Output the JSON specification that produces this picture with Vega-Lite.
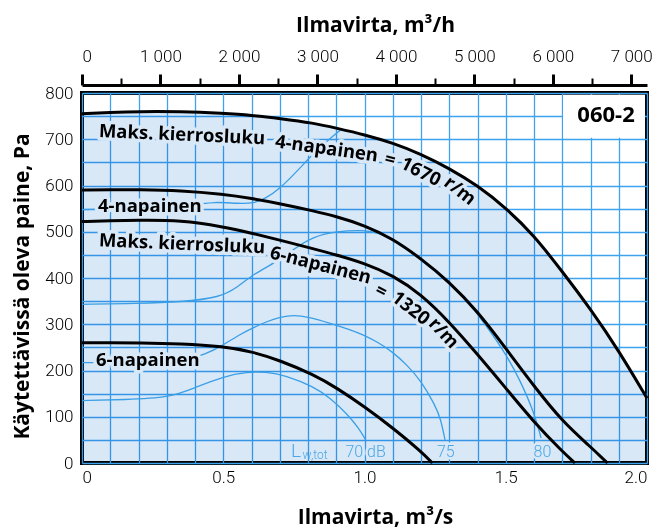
{
  "$schema": "https://vega.github.io/schema/vega-lite/v6.json",
  "width": 565,
  "height": 370,
  "autosize": {"type": "none"},
  "padding": {"left": 82, "top": 93, "right": 12, "bottom": 69},
  "background": "white",
  "config": {
    "view": {"stroke": "black", "strokeWidth": 4},
    "axis": {
      "labelFont": "Roboto",
      "labelFontWeight": 300,
      "labelFontSize": 17,
      "labelColor": "black",
      "titleFont": "Open Sans",
      "titleFontSize": 21,
      "titleFontWeight": "bold",
      "titleColor": "black",
      "gridColor": "#3ea3ee",
      "gridWidth": 1.3,
      "gridOpacity": 1
    }
  },
  "datasets": {
    "curves": [
      {"s": "max4", "x": 0, "y": 755}, {"s": "max4", "x": 0.1, "y": 758}, {"s": "max4", "x": 0.2, "y": 760}, {"s": "max4", "x": 0.35, "y": 760}, {"s": "max4", "x": 0.5, "y": 756}, {"s": "max4", "x": 0.6, "y": 752}, {"s": "max4", "x": 0.7, "y": 745}, {"s": "max4", "x": 0.82, "y": 735}, {"s": "max4", "x": 0.9, "y": 724}, {"s": "max4", "x": 1.0, "y": 710}, {"s": "max4", "x": 1.1, "y": 692}, {"s": "max4", "x": 1.2, "y": 668}, {"s": "max4", "x": 1.3, "y": 637}, {"s": "max4", "x": 1.4, "y": 600}, {"s": "max4", "x": 1.5, "y": 552}, {"s": "max4", "x": 1.6, "y": 492}, {"s": "max4", "x": 1.7, "y": 414}, {"s": "max4", "x": 1.8, "y": 333}, {"s": "max4", "x": 1.9, "y": 243}, {"s": "max4", "x": 2.0, "y": 140},
      {"s": "n4", "x": 0, "y": 590}, {"s": "n4", "x": 0.1, "y": 591}, {"s": "n4", "x": 0.2, "y": 591}, {"s": "n4", "x": 0.35, "y": 589}, {"s": "n4", "x": 0.5, "y": 581}, {"s": "n4", "x": 0.6, "y": 572}, {"s": "n4", "x": 0.7, "y": 561}, {"s": "n4", "x": 0.82, "y": 545}, {"s": "n4", "x": 0.9, "y": 533}, {"s": "n4", "x": 1.0, "y": 514}, {"s": "n4", "x": 1.1, "y": 485}, {"s": "n4", "x": 1.2, "y": 442}, {"s": "n4", "x": 1.3, "y": 392}, {"s": "n4", "x": 1.4, "y": 328}, {"s": "n4", "x": 1.5, "y": 248}, {"s": "n4", "x": 1.6, "y": 166}, {"s": "n4", "x": 1.7, "y": 90}, {"s": "n4", "x": 1.8, "y": 35}, {"s": "n4", "x": 1.86, "y": 0},
      {"s": "max6", "x": 0, "y": 522}, {"s": "max6", "x": 0.1, "y": 524}, {"s": "max6", "x": 0.2, "y": 525}, {"s": "max6", "x": 0.35, "y": 525}, {"s": "max6", "x": 0.5, "y": 511}, {"s": "max6", "x": 0.6, "y": 497}, {"s": "max6", "x": 0.7, "y": 482}, {"s": "max6", "x": 0.82, "y": 463}, {"s": "max6", "x": 0.9, "y": 450}, {"s": "max6", "x": 1.0, "y": 432}, {"s": "max6", "x": 1.1, "y": 406}, {"s": "max6", "x": 1.2, "y": 365}, {"s": "max6", "x": 1.3, "y": 305}, {"s": "max6", "x": 1.4, "y": 235}, {"s": "max6", "x": 1.5, "y": 162}, {"s": "max6", "x": 1.6, "y": 88}, {"s": "max6", "x": 1.7, "y": 25}, {"s": "max6", "x": 1.745, "y": 0},
      {"s": "n6", "x": 0, "y": 260}, {"s": "n6", "x": 0.1, "y": 260}, {"s": "n6", "x": 0.2, "y": 260}, {"s": "n6", "x": 0.35, "y": 258}, {"s": "n6", "x": 0.5, "y": 252}, {"s": "n6", "x": 0.6, "y": 241}, {"s": "n6", "x": 0.7, "y": 222}, {"s": "n6", "x": 0.82, "y": 191}, {"s": "n6", "x": 0.9, "y": 163}, {"s": "n6", "x": 1.0, "y": 122}, {"s": "n6", "x": 1.1, "y": 76}, {"s": "n6", "x": 1.2, "y": 25}, {"s": "n6", "x": 1.24, "y": 0},
      {"s": "db70", "x": 0, "y": 135}, {"s": "db70", "x": 0.15, "y": 137}, {"s": "db70", "x": 0.31, "y": 141}, {"s": "db70", "x": 0.4, "y": 163}, {"s": "db70", "x": 0.5, "y": 187}, {"s": "db70", "x": 0.585, "y": 197}, {"s": "db70", "x": 0.65, "y": 197}, {"s": "db70", "x": 0.72, "y": 190}, {"s": "db70", "x": 0.82, "y": 165}, {"s": "db70", "x": 0.88, "y": 140}, {"s": "db70", "x": 0.94, "y": 105}, {"s": "db70", "x": 0.98, "y": 75}, {"s": "db70", "x": 1.004, "y": 50},
      {"s": "db75", "x": 0, "y": 217}, {"s": "db75", "x": 0.2, "y": 218}, {"s": "db75", "x": 0.36, "y": 222}, {"s": "db75", "x": 0.437, "y": 235}, {"s": "db75", "x": 0.5, "y": 255}, {"s": "db75", "x": 0.55, "y": 275}, {"s": "db75", "x": 0.608, "y": 293}, {"s": "db75", "x": 0.65, "y": 305}, {"s": "db75", "x": 0.703, "y": 316}, {"s": "db75", "x": 0.75, "y": 320}, {"s": "db75", "x": 0.8, "y": 316}, {"s": "db75", "x": 0.88, "y": 302}, {"s": "db75", "x": 0.95, "y": 288}, {"s": "db75", "x": 1.0, "y": 276}, {"s": "db75", "x": 1.05, "y": 260}, {"s": "db75", "x": 1.1, "y": 240}, {"s": "db75", "x": 1.15, "y": 212}, {"s": "db75", "x": 1.2, "y": 178}, {"s": "db75", "x": 1.25, "y": 125}, {"s": "db75", "x": 1.27, "y": 95}, {"s": "db75", "x": 1.285, "y": 50},
      {"s": "db80", "x": 0, "y": 343}, {"s": "db80", "x": 0.2, "y": 345}, {"s": "db80", "x": 0.35, "y": 348}, {"s": "db80", "x": 0.49, "y": 358}, {"s": "db80", "x": 0.55, "y": 380}, {"s": "db80", "x": 0.608, "y": 409}, {"s": "db80", "x": 0.69, "y": 435}, {"s": "db80", "x": 0.75, "y": 463}, {"s": "db80", "x": 0.82, "y": 490}, {"s": "db80", "x": 0.9, "y": 501}, {"s": "db80", "x": 1.0, "y": 504}, {"s": "db80", "x": 1.05, "y": 497}, {"s": "db80", "x": 1.1, "y": 483}, {"s": "db80", "x": 1.2, "y": 440}, {"s": "db80", "x": 1.3, "y": 389}, {"s": "db80", "x": 1.35, "y": 360}, {"s": "db80", "x": 1.4, "y": 323}, {"s": "db80", "x": 1.495, "y": 242}, {"s": "db80", "x": 1.55, "y": 180}, {"s": "db80", "x": 1.6, "y": 110}, {"s": "db80", "x": 1.625, "y": 54},
      {"s": "db85", "x": 0, "y": 548}, {"s": "db85", "x": 0.2, "y": 550}, {"s": "db85", "x": 0.4, "y": 558}, {"s": "db85", "x": 0.466, "y": 565}, {"s": "db85", "x": 0.55, "y": 561}, {"s": "db85", "x": 0.608, "y": 561}, {"s": "db85", "x": 0.65, "y": 572}, {"s": "db85", "x": 0.7, "y": 593}, {"s": "db85", "x": 0.76, "y": 630}, {"s": "db85", "x": 0.82, "y": 670}, {"s": "db85", "x": 0.87, "y": 698}, {"s": "db85", "x": 0.915, "y": 720}
    ],
    "labels": [
      {"k": "m4a", "t": "Maks. kierrosluku", "x": 0.354, "y": 710},
      {"k": "m4b", "t": "4-napainen", "x": 0.866, "y": 680},
      {"k": "m4c", "t": "=", "x": 1.091, "y": 656},
      {"k": "m4d", "t": "1670", "x": 1.199, "y": 630},
      {"k": "m4e", "t": "r/m", "x": 1.338, "y": 589},
      {"k": "n4", "t": "4-napainen", "x": 0.24, "y": 556},
      {"k": "m6a", "t": "Maks. kierrosluku", "x": 0.354, "y": 474},
      {"k": "m6b", "t": "6-napainen", "x": 0.845, "y": 428},
      {"k": "m6c", "t": "=", "x": 1.059, "y": 372},
      {"k": "m6d", "t": "1320", "x": 1.164, "y": 335},
      {"k": "m6e", "t": "r/m", "x": 1.281, "y": 281},
      {"k": "n6", "t": "6-napainen", "x": 0.233, "y": 222}
    ],
    "dbl": [
      {"k": "n", "t": "70 dB", "x": 1.004, "y": 24},
      {"k": "n", "t": "75", "x": 1.288, "y": 24},
      {"k": "n", "t": "80", "x": 1.63, "y": 24},
      {"k": "L", "t": "L", "x": 0.758, "y": 27},
      {"k": "s", "t": "w,tot", "x": 0.825, "y": 17}
    ],
    "tag": [{"t": "060-2", "x": 1.855, "y": 752}],
    "top": [{"h": 0}, {"h": 7200}]
  },
  "layer": [
    {
      "encoding": {
        "x": {
          "field": "x", "type": "quantitative",
          "scale": {"domain": [0, 2], "nice": false},
          "axis": {
            "title": "Ilmavirta, m³/s",
            "values": [0, 0.1, 0.2, 0.3, 0.4, 0.5, 0.6, 0.7, 0.8, 0.9, 1.0, 1.1, 1.2, 1.3, 1.4, 1.5, 1.6, 1.7, 1.8, 1.9, 2.0],
            "labelExpr": "abs(datum.value * 2 - round(datum.value * 2)) < 0.001 ? (datum.value == 0 ? '0' : format(datum.value, '.1f')) : ''",
            "labelOverlap": false,
            "labelFlush": true,
            "ticks": false,
            "domain": false,
            "grid": true,
            "labelPadding": 6,
            "titlePadding": 21,
            "titleX": 293
          }
        },
        "y": {
          "field": "y", "type": "quantitative",
          "scale": {"domain": [0, 800], "nice": false},
          "axis": {
            "title": "Käytettävissä oleva paine, Pa",
            "values": [0, 50, 100, 150, 200, 250, 300, 350, 400, 450, 500, 550, 600, 650, 700, 750, 800],
            "labelExpr": "datum.value % 100 === 0 ? datum.label : ''",
            "labelOverlap": false,
            "ticks": false,
            "domain": false,
            "grid": true,
            "labelPadding": 9,
            "titlePadding": 12,
            "titleY": 193
          }
        }
      },
      "layer": [
        {
          "data": {"name": "curves"},
          "transform": [{"filter": "datum.s == 'max4'"}],
          "mark": {"type": "area", "color": "#d8e8f7", "blend": "multiply", "interpolate": "basis"}
        },
        {
          "data": {"name": "tag"},
          "mark": {"type": "rect", "color": "white"},
          "encoding": {
            "x": {
              "datum": 1.703, "type": "quantitative",
              "scale": {"domain": [0, 2], "nice": false},
              "axis": {
                "title": "Ilmavirta, m³/s",
                "values": [0, 0.1, 0.2, 0.3, 0.4, 0.5, 0.6, 0.7, 0.8, 0.9, 1.0, 1.1, 1.2, 1.3, 1.4, 1.5, 1.6, 1.7, 1.8, 1.9, 2.0],
                "labelExpr": "abs(datum.value * 2 - round(datum.value * 2)) < 0.001 ? (datum.value == 0 ? '0' : format(datum.value, '.1f')) : ''",
                "labelOverlap": false,
                "labelFlush": true,
                "ticks": false,
                "domain": false,
                "grid": true,
                "labelPadding": 6,
                "titlePadding": 21,
                "titleX": 293
              }
            },
            "x2": {"datum": 1.993},
            "y": {
              "datum": 703, "type": "quantitative",
              "scale": {"domain": [0, 800], "nice": false},
              "axis": {
                "title": "Käytettävissä oleva paine, Pa",
                "values": [0, 50, 100, 150, 200, 250, 300, 350, 400, 450, 500, 550, 600, 650, 700, 750, 800],
                "labelExpr": "datum.value % 100 === 0 ? datum.label : ''",
                "labelOverlap": false,
                "ticks": false,
                "domain": false,
                "grid": true,
                "labelPadding": 9,
                "titlePadding": 12,
                "titleY": 193
              }
            },
            "y2": {"datum": 796}
          }
        },
        {
          "data": {"name": "curves"},
          "transform": [{"filter": "indexof(['db70','db75','db80','db85'], datum.s) >= 0"}],
          "mark": {"type": "line", "color": "#3a9fe6", "strokeWidth": 1.3, "interpolate": "basis"},
          "encoding": {"detail": {"field": "s"}}
        },
        {
          "data": {"name": "labels"},
          "transform": [{"filter": "indexof(['n4','n6'], datum.k) >= 0"}],
          "mark": {"type": "text", "font": "Open Sans", "fontSize": 18.5, "fontWeight": "bold", "angle": 0, "fill": "#d8e8f7", "stroke": "#d8e8f7", "strokeWidth": 7, "strokeJoin": "round"},
          "encoding": {"text": {"field": "t"}}
        },
        {
          "data": {"name": "labels"},
          "transform": [{"filter": "indexof(['m4a','m6a'], datum.k) >= 0"}],
          "mark": {"type": "text", "font": "Open Sans", "fontSize": 18.5, "fontWeight": "bold", "angle": 2.5, "fill": "#d8e8f7", "stroke": "#d8e8f7", "strokeWidth": 7, "strokeJoin": "round"},
          "encoding": {"text": {"field": "t"}}
        },
        {
          "data": {"name": "labels"},
          "transform": [{"filter": "datum.k == 'm4b'"}],
          "mark": {"type": "text", "font": "Open Sans", "fontSize": 18.5, "fontWeight": "bold", "angle": 8, "fill": "#d8e8f7", "stroke": "#d8e8f7", "strokeWidth": 7, "strokeJoin": "round"},
          "encoding": {"text": {"field": "t"}}
        },
        {
          "data": {"name": "labels"},
          "transform": [{"filter": "indexof(['m6b','m4c'], datum.k) >= 0"}],
          "mark": {"type": "text", "font": "Open Sans", "fontSize": 18.5, "fontWeight": "bold", "angle": 14.5, "fill": "#d8e8f7", "stroke": "#d8e8f7", "strokeWidth": 7, "strokeJoin": "round"},
          "encoding": {"text": {"field": "t"}}
        },
        {
          "data": {"name": "labels"},
          "transform": [{"filter": "indexof(['m6c','m4d'], datum.k) >= 0"}],
          "mark": {"type": "text", "font": "Open Sans", "fontSize": 18.5, "fontWeight": "bold", "angle": 27, "fill": "#d8e8f7", "stroke": "#d8e8f7", "strokeWidth": 7, "strokeJoin": "round"},
          "encoding": {"text": {"field": "t"}}
        },
        {
          "data": {"name": "labels"},
          "transform": [{"filter": "indexof(['m4e','m6d'], datum.k) >= 0"}],
          "mark": {"type": "text", "font": "Open Sans", "fontSize": 18.5, "fontWeight": "bold", "angle": 38, "fill": "#d8e8f7", "stroke": "#d8e8f7", "strokeWidth": 7, "strokeJoin": "round"},
          "encoding": {"text": {"field": "t"}}
        },
        {
          "data": {"name": "labels"},
          "transform": [{"filter": "datum.k == 'm6e'"}],
          "mark": {"type": "text", "font": "Open Sans", "fontSize": 18.5, "fontWeight": "bold", "angle": 47, "fill": "#d8e8f7", "stroke": "#d8e8f7", "strokeWidth": 7, "strokeJoin": "round"},
          "encoding": {"text": {"field": "t"}}
        },
        {
          "data": {"name": "dbl"},
          "transform": [{"filter": "datum.k == 'n'"}],
          "mark": {"type": "text", "font": "Roboto", "fontWeight": 300, "fontSize": 16, "fill": "#d8e8f7", "stroke": "#d8e8f7", "strokeWidth": 5, "strokeJoin": "round"},
          "encoding": {"text": {"field": "t"}}
        },
        {
          "data": {"name": "curves"},
          "transform": [{"filter": "indexof(['max4','n4','max6','n6'], datum.s) >= 0"}],
          "mark": {"type": "line", "color": "black", "strokeWidth": 3, "interpolate": "basis"},
          "encoding": {"detail": {"field": "s"}}
        },
        {
          "data": {"name": "labels"},
          "transform": [{"filter": "indexof(['n4','n6'], datum.k) >= 0"}],
          "mark": {"type": "text", "font": "Open Sans", "fontSize": 18.5, "fontWeight": "bold", "angle": 0, "fill": "black"},
          "encoding": {"text": {"field": "t"}}
        },
        {
          "data": {"name": "labels"},
          "transform": [{"filter": "indexof(['m4a','m6a'], datum.k) >= 0"}],
          "mark": {"type": "text", "font": "Open Sans", "fontSize": 18.5, "fontWeight": "bold", "angle": 2.5, "fill": "black"},
          "encoding": {"text": {"field": "t"}}
        },
        {
          "data": {"name": "labels"},
          "transform": [{"filter": "datum.k == 'm4b'"}],
          "mark": {"type": "text", "font": "Open Sans", "fontSize": 18.5, "fontWeight": "bold", "angle": 8, "fill": "black"},
          "encoding": {"text": {"field": "t"}}
        },
        {
          "data": {"name": "labels"},
          "transform": [{"filter": "indexof(['m6b','m4c'], datum.k) >= 0"}],
          "mark": {"type": "text", "font": "Open Sans", "fontSize": 18.5, "fontWeight": "bold", "angle": 14.5, "fill": "black"},
          "encoding": {"text": {"field": "t"}}
        },
        {
          "data": {"name": "labels"},
          "transform": [{"filter": "indexof(['m6c','m4d'], datum.k) >= 0"}],
          "mark": {"type": "text", "font": "Open Sans", "fontSize": 18.5, "fontWeight": "bold", "angle": 27, "fill": "black"},
          "encoding": {"text": {"field": "t"}}
        },
        {
          "data": {"name": "labels"},
          "transform": [{"filter": "indexof(['m4e','m6d'], datum.k) >= 0"}],
          "mark": {"type": "text", "font": "Open Sans", "fontSize": 18.5, "fontWeight": "bold", "angle": 38, "fill": "black"},
          "encoding": {"text": {"field": "t"}}
        },
        {
          "data": {"name": "labels"},
          "transform": [{"filter": "datum.k == 'm6e'"}],
          "mark": {"type": "text", "font": "Open Sans", "fontSize": 18.5, "fontWeight": "bold", "angle": 47, "fill": "black"},
          "encoding": {"text": {"field": "t"}}
        },
        {
          "data": {"name": "dbl"},
          "transform": [{"filter": "datum.k == 'n'"}],
          "mark": {"type": "text", "font": "Roboto", "fontWeight": 300, "fontSize": 16, "fill": "#4aa6e6"},
          "encoding": {"text": {"field": "t"}}
        },
        {
          "data": {"name": "dbl"},
          "transform": [{"filter": "datum.k == 'L'"}],
          "mark": {"type": "text", "font": "Roboto", "fontWeight": 300, "fontSize": 19, "fill": "#4aa6e6"},
          "encoding": {"text": {"field": "t"}}
        },
        {
          "data": {"name": "dbl"},
          "transform": [{"filter": "datum.k == 's'"}],
          "mark": {"type": "text", "font": "Roboto", "fontWeight": 300, "fontSize": 12, "fill": "#4aa6e6"},
          "encoding": {"text": {"field": "t"}}
        },
        {
          "data": {"name": "tag"},
          "mark": {"type": "text", "font": "Open Sans", "fontSize": 22, "fontWeight": "bold", "fill": "black"},
          "encoding": {"text": {"field": "t"}}
        }
      ]
    },
    {
      "data": {"name": "top"},
      "mark": {"type": "rule", "opacity": 0},
      "encoding": {
        "x": {
          "field": "h", "type": "quantitative",
          "scale": {"domain": [0, 7200], "nice": false},
          "axis": {
            "orient": "top",
            "title": "Ilmavirta, m³/h",
            "values": [0, 500, 1000, 1500, 2000, 2500, 3000, 3500, 4000, 4500, 5000, 5500, 6000, 6500, 7000],
            "labelExpr": "datum.value % 1000 === 0 ? replace(format(datum.value, ','), ',', ' ') : ''",
            "labelOverlap": false,
            "labelFlush": true,
            "grid": false,
            "domainColor": "black",
            "domainWidth": 3,
            "tickColor": "black",
            "tickSize": {"condition": {"test": "datum.value % 1000 === 0", "value": 11}, "value": 7},
            "tickWidth": {"condition": {"test": "datum.value % 1000 === 0", "value": 3}, "value": 2},
            "labelPadding": 9,
            "offset": 8,
            "titlePadding": 12,
            "titleX": 293
          }
        }
      }
    }
  ],
  "resolve": {"scale": {"x": "independent"}, "axis": {"x": "independent"}}
}
